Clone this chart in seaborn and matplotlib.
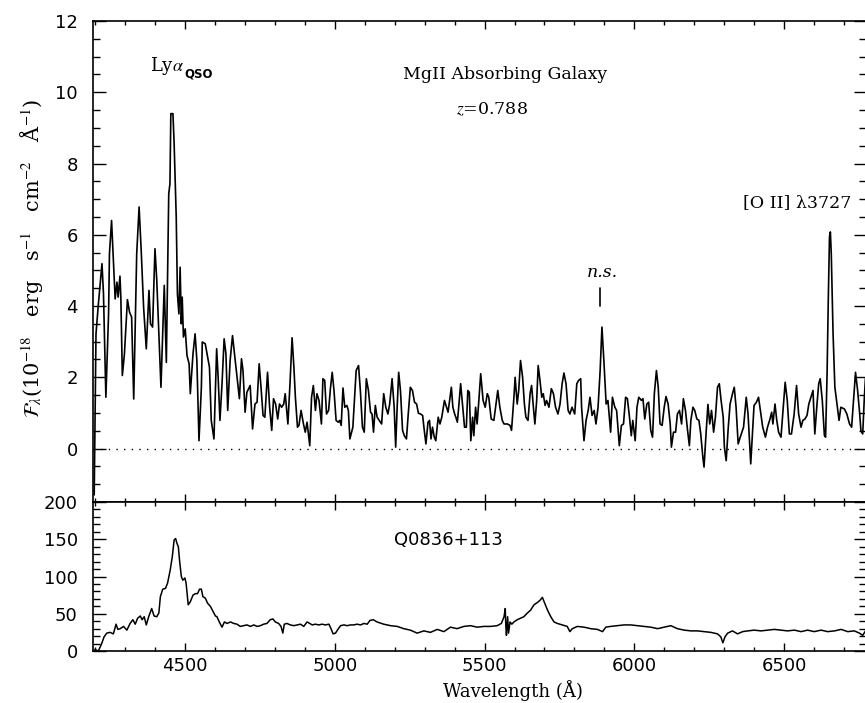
import numpy as np
import pandas as pd
import matplotlib
matplotlib.use("Agg")
import matplotlib.pyplot as plt
from matplotlib.ticker import MultipleLocator
import seaborn as sns

# ---------------- data: MgII absorbing galaxy spectrum (flux, 1e-18 units) ----------------
gal_wave_a = [4196, 4202, 4210, 4222, 4227, 4235, 4244, 4247, 4254, 4258,
              4266, 4272, 4276, 4282, 4285, 4290, 4297, 4307, 4314, 4321,
              4328, 4338, 4346, 4353, 4361, 4370, 4379, 4384, 4391, 4399,
              4405, 4419, 4430, 4437, 4445, 4449, 4452, 4459, 4463, 4470,
              4474, 4479, 4483, 4487, 4490, 4494, 4500, 4506, 4513, 4517,
              4526, 4533, 4539, 4546, 4554, 4557, 4567, 4575, 4581, 4587,
              4596, 4605, 4610, 4616, 4623]
gal_flux_a = [-1.3, 3.22, 4.06, 5.19, 4.34, 1.44, 3.78, 5.47, 6.40, 5.66,
              4.20, 4.67, 4.25, 4.84, 4.25, 2.05, 2.66, 4.18, 3.83, 3.69,
              1.39, 5.47, 6.78, 5.56, 3.97, 2.80, 4.44, 3.50, 3.41, 5.61,
              4.72, 1.72, 4.58, 2.42, 7.15, 7.43, 9.40, 9.40, 8.56, 6.50,
              4.34, 3.78, 5.09, 3.50, 4.25, 3.13, 3.36, 2.61, 2.38, 1.54,
              2.66, 3.22, 2.47, 0.22, 1.72, 2.99, 2.94, 2.57, 2.28, 0.79,
              0.27, 2.80, 2.00, 0.79, 1.82]

gal_wave_b = [4630, 4636, 4642, 4650, 4658, 4667, 4675, 4681, 4688, 4693,
              4700, 4706, 4717, 4725, 4733, 4740, 4747, 4754, 4760, 4766,
              4775, 4782, 4789, 4795, 4802, 4809, 4815, 4822, 4829, 4834,
              4843, 4850, 4857, 4863, 4868, 4875, 4880, 4887, 4895, 4901,
              4907, 4916, 4922, 4928, 4935, 4940, 4947, 4955, 4960, 4966,
              4972, 4979, 4985, 4991, 4997, 5004, 5011, 5016, 5021, 5027,
              5033, 5040, 5045, 5050]
gal_flux_b = [3.08, 2.66, 1.07, 2.47, 3.17, 2.47, 1.82, 1.40, 2.52, 2.19,
              1.02, 1.58, 1.77, 0.55, 1.25, 1.30, 2.38, 1.63, 0.93, 0.88,
              2.14, 1.16, 0.51, 1.40, 1.25, 0.83, 1.25, 1.16, 1.25, 1.54,
              0.69, 1.82, 3.11, 2.29, 1.44, 0.60, 0.65, 1.07, 0.69, 0.46,
              0.74, 0.08, 1.44, 1.77, 1.07, 1.54, 1.35, 0.69, 1.96, 1.91,
              0.97, 1.07, 1.68, 2.14, 1.63, 0.79, 0.74, 0.79, 0.65, 1.70,
              1.16, 1.21, 1.07, 0.27]

gal_wave_c = [5060, 5071, 5079, 5085, 5092, 5098, 5105, 5112, 5119, 5124,
              5129, 5135, 5141, 5148, 5156, 5163, 5170, 5177, 5183, 5191,
              5198, 5203, 5208, 5213, 5219, 5226, 5232, 5239, 5245, 5252,
              5259, 5266, 5273, 5279, 5286, 5293, 5298, 5304, 5311, 5316,
              5321, 5326, 5332, 5337, 5345, 5351, 5357, 5366, 5373, 5378,
              5389, 5394, 5400, 5404, 5409, 5413, 5420, 5426, 5433, 5439,
              5444, 5449, 5454, 5460, 5464, 5470, 5475, 5480, 5487]
gal_flux_c = [0.60, 2.19, 2.33, 1.63, 0.60, 0.46, 1.96, 1.63, 1.02, 0.97,
              0.46, 1.21, 0.88, 0.79, 0.69, 1.54, 1.16, 0.97, 1.25, 1.96,
              1.16, 0.04, 1.16, 2.14, 1.63, 0.51, 0.36, 0.27, 0.97, 1.72,
              1.63, 1.30, 1.25, 0.99, 0.97, 0.93, 0.55, 0.13, 0.74, 0.79,
              0.27, 0.60, 0.32, 0.22, 0.88, 0.69, 0.88, 1.35, 1.16, 1.02,
              1.72, 1.16, 0.97, 0.88, 0.74, 1.11, 1.82, 1.25, 0.60, 0.60,
              1.63, 1.58, 0.22, 0.88, 0.36, 1.16, 0.69, 1.25, 2.10]

gal_wave_d = [5495, 5502, 5509, 5514, 5522, 5531, 5538, 5544, 5551, 5559,
              5565, 5576, 5585, 5590, 5598, 5602, 5609, 5614, 5620, 5627,
              5633, 5638, 5645, 5652, 5657, 5663, 5668, 5674, 5679, 5685,
              5691, 5696, 5702, 5707, 5715, 5723, 5730, 5737, 5745, 5752,
              5759, 5765, 5772, 5779, 5785, 5792, 5801, 5808, 5814, 5821,
              5824, 5832, 5839, 5846, 5852, 5859, 5866, 5872, 5879, 5886,
              5892, 5899, 5906, 5912, 5921, 5927]
gal_flux_d = [1.35, 1.16, 1.54, 1.44, 0.83, 0.79, 1.25, 1.63, 1.16, 0.79,
              0.69, 0.69, 0.65, 0.51, 1.44, 2.00, 1.25, 1.63, 2.47, 2.00,
              1.25, 0.88, 0.79, 1.54, 1.77, 1.16, 0.69, 1.35, 2.33, 1.91,
              1.44, 1.54, 1.21, 1.35, 1.16, 1.68, 1.54, 1.16, 0.97, 1.25,
              1.82, 2.12, 1.82, 1.07, 0.97, 1.16, 0.97, 1.82, 1.91, 1.96,
              1.16, 0.22, 0.79, 1.07, 1.44, 0.93, 1.07, 0.69, 1.16, 2.19,
              3.41, 2.38, 1.25, 1.35, 0.46, 1.44]

gal_wave_e = [5935, 5941, 5950, 5957, 5964, 5971, 5977, 5984, 5990, 5995,
              6003, 6009, 6015, 6024, 6029, 6035, 6042, 6048, 6055, 6061,
              6067, 6074, 6080, 6086, 6093, 6100, 6106, 6113, 6120, 6124,
              6131, 6138, 6144, 6151, 6158, 6164, 6171, 6178, 6184, 6189,
              6196, 6202, 6209, 6216, 6222, 6229, 6233, 6239, 6246, 6252,
              6258, 6265, 6271, 6278, 6284, 6290, 6297, 6301, 6307, 6314,
              6320, 6328, 6334, 6340, 6347, 6354]
gal_flux_e = [1.16, 1.07, 0.08, 0.65, 0.69, 1.44, 1.40, 0.88, 0.36, 0.79,
              0.22, 1.16, 1.44, 1.35, 1.40, 0.83, 1.25, 1.30, 0.51, 0.32,
              1.54, 2.19, 1.72, 0.69, 0.65, 1.16, 1.46, 1.25, 0.69, 0.04,
              0.46, 0.46, 0.97, 1.07, 0.69, 1.40, 1.07, 0.51, 0.08, 0.79,
              1.16, 1.07, 0.83, 0.79, 0.41, -0.24, -0.52, 0.32, 1.24, 0.69,
              1.07, 0.46, 0.88, 1.72, 1.82, 1.35, 0.88, 0.04, -0.34, 0.60,
              1.25, 1.54, 1.72, 1.16, 0.13, 0.32]

gal_wave_f = [6365, 6374, 6380, 6389, 6396, 6400, 6408, 6415, 6423, 6429,
              6438, 6445, 6452, 6459, 6463, 6470, 6476, 6482, 6490, 6496,
              6504, 6511, 6518, 6525, 6534, 6542, 6549, 6557, 6563, 6570,
              6577, 6583, 6590, 6597, 6603, 6610, 6616, 6621, 6628, 6635,
              6639, 6644, 6648, 6652, 6655, 6658, 6664, 6670, 6677, 6684,
              6690, 6702, 6710, 6719, 6726, 6733, 6739, 6746, 6753, 6757,
              6763, 6768, 6772]
gal_flux_f = [0.60, 1.44, 0.97, -0.43, 0.60, 1.21, 1.30, 1.44, 0.97, 0.60,
              0.32, 0.60, 0.79, 1.02, 0.69, 1.25, 0.79, 0.46, 0.32, 0.97,
              1.86, 1.35, 0.41, 0.41, 0.97, 1.77, 0.97, 0.60, 0.79, 0.83,
              0.93, 1.25, 1.44, 1.63, 0.41, 1.21, 1.82, 1.96, 1.35, 0.37,
              0.32, 2.10, 4.16, 5.94, 6.08, 5.47, 3.22, 1.72, 1.25, 0.79,
              1.16, 1.11, 0.97, 0.69, 0.60, 1.44, 2.14, 1.63, 0.97, 0.50,
              0.41, 1.35, 1.96]

# ---------------- data: QSO Q0836+113 spectrum ----------------
qso_wave_a = [4198, 4210, 4221, 4229, 4238, 4249, 4260, 4269, 4275, 4283,
              4294, 4305, 4316, 4325, 4333, 4341, 4350, 4356, 4363, 4370,
              4378, 4388, 4396, 4405, 4412, 4417, 4425, 4434, 4441, 4450,
              4457, 4463, 4468, 4472, 4477, 4481, 4487, 4492, 4499, 4503,
              4510, 4517, 4526, 4534, 4541, 4548, 4554, 4559, 4567, 4575,
              4584, 4593, 4601, 4606, 4615, 4623, 4631, 4640, 4651, 4662,
              4673, 4684, 4695, 4706, 4718, 4729, 4740, 4751, 4762, 4773,
              4784, 4793, 4801, 4812, 4820, 4826, 4831, 4840, 4851, 4863,
              4874, 4885, 4896, 4907, 4916, 4924, 4935, 4946, 4957, 4968,
              4980, 4987, 4994, 5002, 5010, 5019, 5030, 5041, 5052, 5063,
              5074, 5086, 5097, 5108, 5117, 5128]
qso_flux_a = [2, 0, 10, 19, 24, 25, 23, 36, 29, 30,
              33, 28, 37, 42, 36, 44, 47, 42, 46, 35,
              46, 57, 47, 46, 51, 73, 83, 84, 91, 109,
              127, 149, 151, 145, 140, 122, 100, 95, 98, 91,
              62, 66, 75, 77, 77, 83, 83, 73, 71, 64,
              60, 53, 47, 46, 38, 32, 39, 37, 39, 37,
              36, 33, 34, 35, 33, 35, 33, 34, 36, 37,
              42, 43, 39, 37, 33, 24, 36, 37, 35, 34,
              35, 36, 33, 39, 37, 35, 36, 35, 36, 35,
              36, 30, 23, 24, 29, 34, 35, 34, 35, 35,
              36, 35, 37, 36, 41, 42]

qso_wave_b = [5141, 5163, 5186, 5208, 5230, 5252, 5275, 5297, 5319, 5342,
              5364, 5386, 5408, 5431, 5453, 5475, 5498, 5520, 5542, 5556,
              5565, 5569, 5571, 5573, 5577, 5580, 5585, 5591, 5598, 5609,
              5620, 5631, 5643, 5654, 5665, 5676, 5685, 5693, 5701, 5710,
              5721, 5732, 5743, 5760, 5776, 5785, 5793, 5810, 5832, 5854,
              5877, 5894, 5905, 5921, 5944, 5966, 5988, 6011, 6033, 6055,
              6078, 6100, 6122, 6144, 6167, 6189, 6211, 6234, 6256, 6278,
              6289, 6296, 6303, 6312, 6328, 6345, 6362, 6379, 6401, 6423,
              6445, 6468, 6490, 6512, 6535, 6557, 6579, 6601, 6624, 6646,
              6669, 6691, 6713, 6735, 6752, 6763, 6774]
qso_flux_b = [39, 36, 34, 33, 30, 28, 24, 27, 25, 29,
              26, 32, 30, 33, 34, 32, 33, 33, 34, 37,
              46, 57, 33, 21, 46, 24, 39, 36, 39, 42,
              44, 46, 51, 55, 62, 65, 68, 72, 64, 55,
              46, 39, 37, 35, 33, 26, 30, 33, 32, 30,
              29, 26, 32, 33, 34, 35, 35, 34, 33, 32,
              30, 32, 34, 30, 28, 27, 27, 26, 25, 23,
              19, 11, 19, 24, 27, 23, 26, 27, 28, 27,
              28, 29, 28, 27, 28, 26, 28, 26, 28, 26,
              27, 29, 26, 27, 24, 21, 28]

ns_wave = 5884  # position of the "n.s." marker

gal_wave = gal_wave_a + gal_wave_b + gal_wave_c + gal_wave_d + gal_wave_e + gal_wave_f
gal_flux = gal_flux_a + gal_flux_b + gal_flux_c + gal_flux_d + gal_flux_e + gal_flux_f
qso_wave = qso_wave_a + qso_wave_b
qso_flux = qso_flux_a + qso_flux_b
assert len(gal_wave) == len(gal_flux)
assert len(qso_wave) == len(qso_flux)

gal = pd.DataFrame({"wave": gal_wave, "flux": gal_flux})
qso = pd.DataFrame({"wave": qso_wave, "flux": qso_flux})

# ---------------- style ----------------
sns.set_style("ticks")
plt.rcParams["font.family"] = ["DejaVu Sans"]
plt.rcParams["mathtext.fontset"] = "stix"
for key in ("text.color", "axes.labelcolor", "xtick.color", "ytick.color",
            "axes.edgecolor"):
    plt.rcParams[key] = "black"

W, H = 865, 703
fig = plt.figure(figsize=(W / 100, H / 100), dpi=100)

left = 93 / W
width = (W - 93 + 1) / W
ax1 = fig.add_axes([left, 1 - 502 / H, width, (502 - 21) / H])
ax2 = fig.add_axes([left, 1 - 651 / H, width, (651 - 502) / H])

xlim = (4192, 6774)

sns.lineplot(data=gal, x="wave", y="flux", ax=ax1, color="black", lw=1.2,
             estimator=None, sort=False)
sns.lineplot(data=qso, x="wave", y="flux", ax=ax2, color="black", lw=1.1,
             estimator=None, sort=False)

ax1.axhline(0, color="black", lw=1.0, ls=(0, (1, 4.5)))

for ax in (ax1, ax2):
    ax.set_xlim(*xlim)
    ax.xaxis.set_major_locator(MultipleLocator(500))
    ax.xaxis.set_minor_locator(MultipleLocator(100))
    ax.tick_params(axis="x", which="major", direction="in", length=6, width=1,
                   top=True, bottom=True, labelsize=13, pad=4)
    ax.tick_params(axis="x", which="minor", direction="in", length=3, width=1,
                   top=True, bottom=True)
    ax.tick_params(axis="y", which="major", direction="in", length=9, width=1,
                   left=True, right=True, labelsize=13, pad=11)
    ax.tick_params(axis="y", which="minor", direction="in", length=5, width=1,
                   left=True, right=True)
    for s in ax.spines.values():
        s.set_linewidth(1.2)
        s.set_color("black")
    ax.set_xlabel("")
    ax.set_ylabel("")

ax1.set_ylim(-1.5, 12)
ax1.yaxis.set_major_locator(MultipleLocator(2))
ax1.yaxis.set_minor_locator(MultipleLocator(0.5))
ax1.tick_params(axis="x", labelbottom=False)

ax2.set_ylim(0, 200)
ax2.yaxis.set_major_locator(MultipleLocator(50))
ax2.yaxis.set_minor_locator(MultipleLocator(10))

# labels
ax1.set_ylabel(r"$\mathcal{F}_{\lambda}$(10$^{-18}$   erg   s$^{-1}$   cm$^{-2}$   Å$^{-1}$)",
               family="DejaVu Serif", fontsize=15, va="center")
ax1.yaxis.set_label_coords(-0.079, 0.507)
ax2.set_xlabel("Wavelength (Å)", family="DejaVu Serif", fontsize=13, va="center")
ax2.xaxis.set_label_coords(0.543, -0.262)

serif = "DejaVu Serif"
ax1.text(4383, 10.73, r"Ly$\alpha$", family=serif, fontsize=13,
         ha="left", va="center")
ax1.text(4496, 10.50, "QSO", family="DejaVu Sans", fontsize=8.5, weight="bold",
         ha="left", va="center")
ax1.text(5570, 10.5, "MgII Absorbing Galaxy", family=serif, fontsize=12.5,
         ha="center", va="center")
ax1.text(5523, 9.5, r"$z$=0.788", family=serif, fontsize=12.5,
         ha="center", va="center")
ax1.text(6543, 6.91, "[O II] λ3727", family=serif, fontsize=12.5,
         ha="center", va="center")
ax1.text(ns_wave + 8, 4.94, "n.s.", family=serif, style="italic", fontsize=12.5,
         ha="center", va="center")
ax1.plot([ns_wave, ns_wave], [4.0, 4.52], color="black", lw=1.2)

ax2.text(5380, 149, "Q0836+113", family="DejaVu Sans", fontsize=13,
         ha="center", va="center")

fig.savefig("out.png", dpi=100)
